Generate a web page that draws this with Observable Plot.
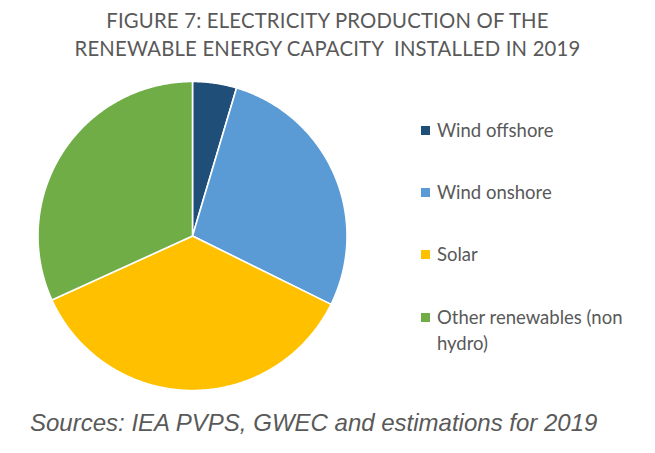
<!DOCTYPE html>
<html>
<head>
<meta charset="utf-8">
<script src="https://cdn.jsdelivr.net/npm/d3@7"></script>
<script src="https://cdn.jsdelivr.net/npm/@observablehq/plot@0.6"></script>
<style>
  html, body { margin: 0; padding: 0; background: #fff; }
  #wrap { position: relative; width: 655px; height: 453px; overflow: hidden; }
  #title { position: absolute; left: 0; top: 6px; width: 655px; text-align: center;
    font-family: Lato, "Open Sans", sans-serif; font-size: 20.3px; line-height: 28px; color: #595959; letter-spacing: 0.2px; white-space: pre; }
  #chart { position: absolute; left: 0; top: 70px; }
  #legend { position: absolute; left: 421px; top: 117px; font-family: Lato, "Open Sans", sans-serif; font-size: 18.5px; color: #595959; }
  .item { position: absolute; left: 0; width: 240px; display: flex; align-items: flex-start; line-height: 26px; }
  .sw { width: 9px; height: 9px; margin-top: 9px; margin-right: 7px; flex: none; }
  #caption { position: absolute; left: 30px; top: 409px; font-family: "Liberation Sans", Arial, sans-serif; font-style: italic; font-size: 24px; color: #595959; white-space: nowrap; }
</style>
</head>
<body>
<div id="wrap">
  <div id="title"></div>
  <div id="chart"></div>
  <div id="legend"></div>
  <div id="caption"></div>
</div>
<script>
const titleLines = ["FIGURE 7: ELECTRICITY PRODUCTION OF THE", "RENEWABLE ENERGY CAPACITY  INSTALLED IN 2019"];
const caption = "Sources: IEA PVPS, GWEC and estimations for 2019";
const categories = ["Wind offshore", "Wind onshore", "Solar", "Other renewables (non hydro)"];
const shares = [4.6, 27.7, 35.9, 31.8];
const colors = ["#1f4e79", "#5b9bd5", "#ffc000", "#70ad47"];

document.getElementById("title").textContent = titleLines.join("\n");
document.getElementById("caption").textContent = caption;

// Build slice outlines from the pie layout
const pie = d3.pie().sort(null).value(d => d.value);
const arcs = pie(categories.map((c, i) => ({category: c, value: shares[i]})));
const pts = [];
for (const a of arcs) {
  const c = a.data.category;
  pts.push({category: c, x: 0, y: 0});
  const n = Math.max(2, Math.ceil((a.endAngle - a.startAngle) / (Math.PI / 360)));
  for (let k = 0; k <= n; k++) {
    const t = a.startAngle + (a.endAngle - a.startAngle) * k / n;
    pts.push({category: c, x: Math.sin(t), y: Math.cos(t)});
  }
}

const W = 655, H = 330;
const cx = 192, cy = 165.5, R = 154.5;
const chart = Plot.plot({
  width: W,
  height: H,
  marginLeft: cx - R,
  marginRight: W - cx - R,
  marginTop: cy - R,
  marginBottom: H - cy - R,
  x: {domain: [-1, 1], axis: null},
  y: {domain: [-1, 1], axis: null},
  color: {type: "ordinal", domain: categories, range: colors},
  marks: [
    Plot.line(pts, {x: "x", y: "y", z: "category", fill: "category", stroke: "white", strokeWidth: 1.6, curve: "linear-closed", strokeLinejoin: "round"})
  ]
});
document.getElementById("chart").appendChild(chart);

// Legend
const legendTops = [0, 62, 124, 187];
const legendLabels = ["Wind offshore", "Wind onshore", "Solar", "Other renewables (non\nhydro)"];
const leg = d3.select("#legend");
categories.forEach((c, i) => {
  const it = leg.append("div").attr("class", "item").style("top", legendTops[i] + "px");
  it.append("div").attr("class", "sw").style("background", colors[i]);
  it.append("div").style("white-space", "pre").text(legendLabels[i]);
});
</script>
</body>
</html>
